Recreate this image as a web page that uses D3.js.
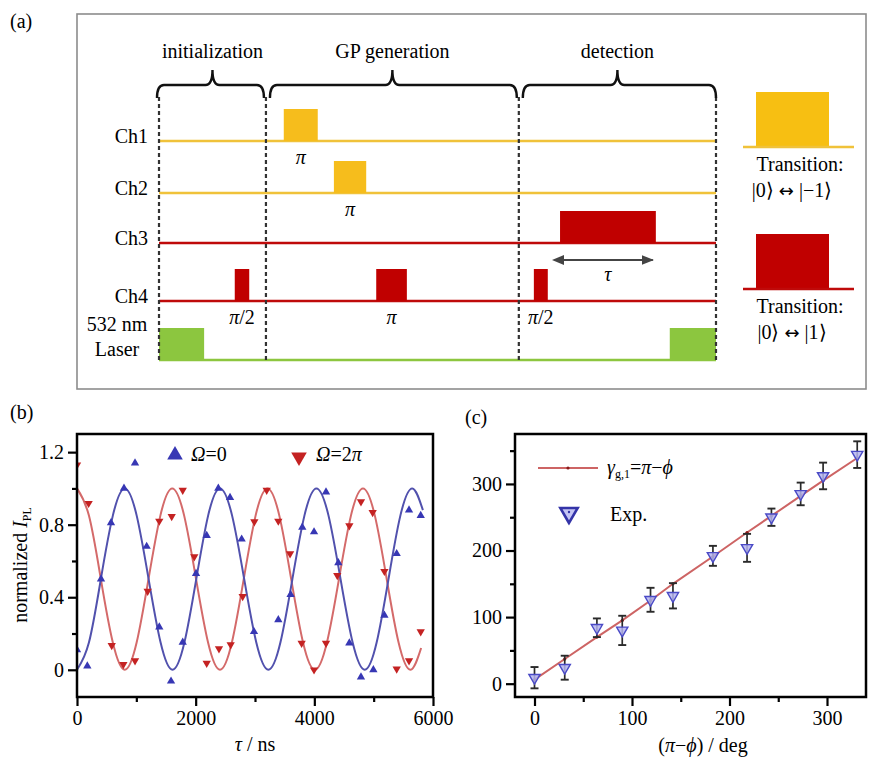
<!DOCTYPE html>
<html><head><meta charset="utf-8">
<script src="https://cdn.jsdelivr.net/npm/d3@7"></script>
<style>
body{margin:0;background:#fff;}
</style></head><body>
<svg id="fig" width="870" height="758" font-family="Liberation Serif"></svg>
<script>
// ---------- Panel (a): pulse sequence ----------
const channels = ["Ch1","Ch2","Ch3","Ch4","Laser"];
const channelLineColors = ["#f0c23a","#f0c23a","#bf0a0a","#bf0a0a","#8dc63f"];
const channelPulseColors = ["#f6bd1c","#f6bd1c","#c00000","#c00000","#8cc63f"];
const sectionNames = ["initialization","GP generation","detection"];
const sectionBounds = [0, 19.2, 64.6, 100];
const pulseChannel = ["Ch1","Ch2","Ch3","Ch4","Ch4","Ch4","Laser","Laser"];
const pulseStart   = [22.4, 31.4, 72.0, 13.6, 39.0, 67.3, 0, 91.7];
const pulseEnd     = [28.5, 37.2, 89.2, 16.2, 44.5, 69.8, 8.1, 100];
const pulseLabel   = ["π","π","","π/2","π","π/2","",""];
const transitionColors = ["#f7bf12","#c00000"];
const transitionLineColors = ["#f0c23a","#bf0a0a"];
const transitionKets = ["|−1⟩","|1⟩"];

// ---------- Panel (b): oscillations ----------
const tauTicks = [0,2000,4000,6000];
const tauMinor = [1000,3000,5000];
const ipTicks = [0,0.4,0.8,1.2];
const ipMinor = [0.2,0.6,1.0];
const blueTau = [0,174,405,573,792,978,1174,1387,1585,1782,2006,2186,2382,2579,2775,2983,3393,3600,3797,3995,4197,4405,4590,4786,4995,5181,5388,5596,5793];
const blueVal = [0.11,0.02,0.50,0.81,1.00,1.14,0.68,0.235,-0.063,0.152,0.53,0.74,1.00,0.95,0.72,0.21,0.275,0.415,0.785,0.76,0.98,0.59,0.147,-0.04,0.0,0.30,0.64,0.88,0.85];
const redTau = [0,196,585,781,978,1191,1387,1596,1782,1977,2186,2393,2590,2792,2989,3197,3393,3591,3786,3995,4197,4387,4590,4786,4983,5181,5388,5596,5793];
const redVal = [1.13,0.918,0.134,0.03,0.05,0.433,0.82,0.846,0.99,0.624,0.036,0.116,0.138,0.404,0.817,0.99,0.82,0.64,0.147,0.0,0.147,0.52,0.795,0.927,0.868,0.543,0.005,0.05,0.21];
const blueFitTau = [0,201,402,604,805,1006,1207,1409,1610,1810,2010,2210,2410,2614,2818,3022,3225,3428,3630,3833,4035,4239,4442,4646,4850,5050,5250,5450,5650,5830];
const blueFitVal = [0,0.15,0.5,0.85,1,0.85,0.5,0.15,0,0.15,0.5,0.85,1,0.85,0.5,0.15,0,0.15,0.5,0.85,1,0.85,0.5,0.15,0,0.15,0.5,0.85,1,0.88];
const redFitTau = [0,201,402,604,805,1005,1205,1405,1605,1806,2007,2209,2410,2610,2810,3010,3210,3410,3610,3810,4010,4212,4415,4617,4820,5020,5220,5420,5620,5800];
const redFitVal = [1,0.85,0.5,0.15,0,0.15,0.5,0.85,1,0.85,0.5,0.15,0,0.15,0.5,0.85,1,0.85,0.5,0.15,0,0.15,0.5,0.85,1,0.85,0.5,0.15,0,0.12];

// ---------- Panel (c): geometric phase ----------
const phaseTicks = [0,100,200,300];
const phaseMinor = [50,150,250];
const gammaTicks = [0,100,200,300];
const gammaMinor = [50,150,250,350];
const phaseX     = [0,31,64,90,119,142,183,218,243,273,296,331];
const gammaExp   = [9,24,84,80,126,132,192,204,250,285,312,344];
const gammaErr   = [16,18,14,22,18,19,15,21,13,17,20,20];
const gammaTheory= [6,37,70,95,125,150,191,227,252,282,305,339];

const SERIF = "Liberation Serif";
const svg = d3.select("#fig");
const FS = 20;
function txt(g,x,y,anchor){
  return g.append("text").attr("x",x).attr("y",y).attr("font-size",FS)
    .attr("font-family",SERIF).attr("fill","#000").attr("text-anchor",anchor||"start");
}
function it(t,s){ t.append("tspan").attr("font-style","italic").text(s); return t; }
function rm(t,s){ t.append("tspan").text(s); return t; }

// ===== Panel (a) =====
const A = svg.append("g");
A.append("rect").attr("x",77).attr("y",14).attr("width",789).attr("height",375)
  .attr("fill","none").attr("stroke","#8c8c8c").attr("stroke-width",1.6);
txt(svg,10,28).text("(a)");

const xA = d3.scaleLinear().domain([0,100]).range([159,716]);
const yCh = d3.scaleOrdinal().domain(channels).range([141,193,243,301,360]);
const lineCol = d3.scaleOrdinal().domain(channels).range(channelLineColors);
const pulseCol = d3.scaleOrdinal().domain(channels).range(channelPulseColors);
const ampH = d3.scaleLinear().domain([0,1]).range([0,32]);

A.selectAll(".base").data(channels).join("line")
  .attr("x1",xA(0)).attr("x2",xA(100))
  .attr("y1",d=>yCh(d)).attr("y2",d=>yCh(d))
  .attr("stroke",d=>lineCol(d)).attr("stroke-width",2.6);

const pulses = pulseChannel.map((c,i)=>({c,s:pulseStart[i],e:pulseEnd[i],l:pulseLabel[i]}));
A.selectAll(".pulse").data(pulses).join("rect")
  .attr("x",d=>xA(d.s)).attr("width",d=>xA(d.e)-xA(d.s))
  .attr("y",d=>yCh(d.c)-ampH(1)).attr("height",ampH(1))
  .attr("fill",d=>pulseCol(d.c));

pulses.filter(d=>d.l).forEach(d=>{
  const t = txt(A,(xA(d.s)+xA(d.e))/2,yCh(d.c)+23,"middle");
  it(t,"π");
  if (d.l.length>1) rm(t,d.l.slice(1));
});

A.selectAll(".div").data(sectionBounds).join("line")
  .attr("x1",d=>xA(d)).attr("x2",d=>xA(d)).attr("y1",97).attr("y2",362)
  .attr("stroke","#333").attr("stroke-width",2.2).attr("stroke-dasharray","4,3");

sectionNames.forEach((name,i)=>{
  const x0 = xA(sectionBounds[i]) + (i?4:-2);
  const x1 = xA(sectionBounds[i+1]) - (i<2?2:0);
  const xm = (xA(sectionBounds[i])+xA(sectionBounds[i+1]))/2;
  const y0 = 85, r = 7;
  const p = `M${x0},${y0+13} Q${x0},${y0} ${x0+r},${y0} L${xm-r},${y0} Q${xm},${y0} ${xm},${y0-15} Q${xm},${y0} ${xm+r},${y0} L${x1-r},${y0} Q${x1},${y0} ${x1},${y0+13}`;
  A.append("path").attr("d",p).attr("fill","none").attr("stroke","#111").attr("stroke-width",2.4);
  txt(A,xm,58,"middle").text(name);
});

["Ch1","Ch2","Ch3","Ch4"].forEach(c=>{ txt(A,148,yCh(c)+2,"end").text(c); });
txt(A,117,yCh("Laser")-29,"middle").text("532 nm");
txt(A,117,yCh("Laser")-4,"middle").text("Laser");

const defs = svg.append("defs");
["s","e"].forEach(k=>{
  defs.append("marker").attr("id","ar"+k).attr("viewBox","0 0 10 10").attr("refX",k==="e"?9:1).attr("refY",5)
    .attr("markerWidth",7).attr("markerHeight",7).attr("orient","auto-start-reverse")
    .append("path").attr("d","M0,1 L10,5 L0,9 Z").attr("fill","#444");
});
{
  const i = pulseChannel.indexOf("Ch3");
  A.append("line").attr("x1",xA(pulseStart[i])+3).attr("x2",xA(pulseEnd[i])-3)
    .attr("y1",yCh("Ch3")+17).attr("y2",yCh("Ch3")+17)
    .attr("stroke","#444").attr("stroke-width",1.8)
    .attr("marker-start","url(#ars)").attr("marker-end","url(#are)");
  it(txt(A,(xA(pulseStart[i])+xA(pulseEnd[i]))/2,yCh("Ch3")+38,"middle"),"τ");
}

const legBottoms = [147,289];
transitionColors.forEach((col,i)=>{
  const yb = legBottoms[i];
  A.append("rect").attr("x",756).attr("y",yb-55).attr("width",73).attr("height",55).attr("fill",col);
  A.append("line").attr("x1",743).attr("x2",854).attr("y1",yb).attr("y2",yb)
    .attr("stroke",transitionLineColors[i]).attr("stroke-width",2.6);
  txt(A,800,yb+24,"middle").text("Transition:");
  const t = txt(A,792,yb+50,"middle");
  rm(t,"|0⟩ ");
  t.append("tspan").attr("font-family","DejaVu Sans").attr("font-size",18).text("↔");
  rm(t," "+transitionKets[i]);
});

// ===== axis styling =====
function styleAxis(g){
  g.attr("font-family",SERIF).attr("font-size",FS);
  g.select(".domain").remove();
  g.selectAll(".tick line").attr("stroke","#000").attr("stroke-width",2.2);
  g.selectAll(".tick text").attr("font-size",FS).attr("font-family",SERIF).attr("fill","#000");
}
const tri = d3.symbol(d3.symbolTriangle);

// ===== Panel (b) =====
const B = svg.append("g");
txt(svg,10,419).text("(b)");
const xB = d3.scaleLinear().domain([0,6000]).range([77,433]);
const yB = d3.scaleLinear().domain([-0.15,1.3]).range([697,434]);

B.append("clipPath").attr("id","clipB").append("rect").attr("x",77).attr("y",434).attr("width",356).attr("height",263);
const lineB = d3.line().curve(d3.curveNatural);
const pg = B.append("g").attr("clip-path","url(#clipB)");
pg.append("path").attr("d",lineB(redFitTau.map((t,i)=>[xB(t),yB(redFitVal[i])])))
  .attr("fill","none").attr("stroke","#d46a6a").attr("stroke-width",2);
pg.append("path").attr("d",lineB(blueFitTau.map((t,i)=>[xB(t),yB(blueFitVal[i])])))
  .attr("fill","none").attr("stroke","#5151ad").attr("stroke-width",2);

pg.selectAll(".bt").data(blueTau).join("path")
  .attr("d",tri.size(30)()).attr("fill","#3737b4")
  .attr("transform",(d,i)=>`translate(${xB(d)},${yB(blueVal[i])})`);
pg.selectAll(".rt").data(redTau).join("path")
  .attr("d",tri.size(30)()).attr("fill","#c42222")
  .attr("transform",(d,i)=>`translate(${xB(d)},${yB(redVal[i])}) rotate(180)`);

const fmtB = d=> d===0?"0":d3.format(".1f")(d);
B.append("g").attr("transform","translate(0,697)")
  .call(d3.axisBottom(xB).tickValues(tauTicks).tickSize(9).tickPadding(5).tickFormat(d3.format("d"))).call(styleAxis);
B.append("g").attr("transform","translate(0,697)")
  .call(d3.axisBottom(xB).tickValues(tauMinor).tickSize(5).tickFormat("")).call(styleAxis);
B.append("g").attr("transform","translate(77,0)")
  .call(d3.axisLeft(yB).tickValues(ipTicks).tickSize(9).tickPadding(4).tickFormat(fmtB)).call(styleAxis);
B.append("g").attr("transform","translate(77,0)")
  .call(d3.axisLeft(yB).tickValues(ipMinor).tickSize(5).tickFormat("")).call(styleAxis);
B.append("rect").attr("x",77).attr("y",434).attr("width",356).attr("height",263)
  .attr("fill","none").attr("stroke","#000").attr("stroke-width",2.5);

B.append("path").attr("d",tri.size(105)()).attr("fill","#3737b4").attr("transform","translate(175,455)");
rm(it(txt(B,191,461),"Ω"),"=0");
B.append("path").attr("d",tri.size(105)()).attr("fill","#c42222").attr("transform","translate(299,457) rotate(180)");
it(rm(it(txt(B,316,461),"Ω"),"=2"),"π");

{ const t=B.append("text").attr("transform","translate(27,565) rotate(-90)").attr("text-anchor","middle")
    .attr("font-size",FS).attr("font-family",SERIF);
  rm(t,"normalized "); it(t,"I");
  t.append("tspan").attr("font-size",12).attr("dy",4).text("PL"); }
rm(it(txt(B,255,751,"middle"),"τ")," / ns");

// ===== Panel (c) =====
const C = svg.append("g");
txt(svg,465,424).text("(c)");
const xC = d3.scaleLinear().domain([-20,340]).range([515,866]);
const yC = d3.scaleLinear().domain([-20,375]).range([697,434]);

C.append("g").attr("transform","translate(0,697)")
  .call(d3.axisBottom(xC).tickValues(phaseTicks).tickSize(9).tickPadding(5).tickFormat(d3.format("d"))).call(styleAxis);
C.append("g").attr("transform","translate(0,697)")
  .call(d3.axisBottom(xC).tickValues(phaseMinor).tickSize(5).tickFormat("")).call(styleAxis);
C.append("g").attr("transform","translate(515,0)")
  .call(d3.axisLeft(yC).tickValues(gammaTicks).tickSize(9).tickPadding(4).tickFormat(d3.format("d"))).call(styleAxis);
C.append("g").attr("transform","translate(515,0)")
  .call(d3.axisLeft(yC).tickValues(gammaMinor).tickSize(5).tickFormat("")).call(styleAxis);

C.append("path").attr("d",d3.line()(phaseX.map((x,i)=>[xC(x),yC(gammaTheory[i])])))
  .attr("fill","none").attr("stroke","#cd6464").attr("stroke-width",2);
C.selectAll(".td").data(phaseX).join("circle")
  .attr("cx",d=>xC(d)).attr("cy",(d,i)=>yC(gammaTheory[i])).attr("r",1.6).attr("fill","#8a1a1a");

const eb = C.selectAll(".eb").data(phaseX).join("g");
eb.append("line").attr("x1",d=>xC(d)).attr("x2",d=>xC(d))
  .attr("y1",(d,i)=>yC(gammaExp[i]-gammaErr[i])).attr("y2",(d,i)=>yC(gammaExp[i]+gammaErr[i]))
  .attr("stroke","#2a2a2a").attr("stroke-width",1.7);
[-1,1].forEach(s=>{
  eb.append("line").attr("x1",d=>xC(d)-4).attr("x2",d=>xC(d)+4)
    .attr("y1",(d,i)=>yC(gammaExp[i]+s*gammaErr[i])).attr("y2",(d,i)=>yC(gammaExp[i]+s*gammaErr[i]))
    .attr("stroke","#2a2a2a").attr("stroke-width",1.9);
});
C.selectAll(".ex").data(phaseX).join("path")
  .attr("d",tri.size(55)()).attr("fill","#b4b4ef").attr("fill-opacity",0.85)
  .attr("stroke","#4a4ac6").attr("stroke-width",1.4)
  .attr("transform",(d,i)=>`translate(${xC(d)},${yC(gammaExp[i])}) rotate(180)`);

C.append("rect").attr("x",515).attr("y",434).attr("width",351).attr("height",263)
  .attr("fill","none").attr("stroke","#000").attr("stroke-width",2.5);

C.append("line").attr("x1",538).attr("x2",598).attr("y1",468).attr("y2",468).attr("stroke","#cd6464").attr("stroke-width",2);
C.append("circle").attr("cx",568).attr("cy",468).attr("r",1.6).attr("fill","#8a1a1a");
{ const t=txt(C,607,474);
  it(t,"γ");
  t.append("tspan").attr("font-size",12).attr("dy",4).text("g,1");
  t.append("tspan").attr("dy",-4).text("=");
  it(t,"π"); rm(t,"−"); it(t,"ϕ"); }
C.append("path").attr("d",tri.size(130)()).attr("fill","#c4c4f4")
  .attr("stroke","#3434a8").attr("stroke-width",2.6).attr("transform","translate(569,513) rotate(180)");
C.append("circle").attr("cx",569).attr("cy",512).attr("r",1.2).attr("fill","#3434a8");
txt(C,610,521).text("Exp.");

{ const t=txt(C,703,752,"middle");
  rm(t,"("); it(t,"π"); rm(t,"−"); it(t,"ϕ"); rm(t,") / deg"); }
</script>
</body></html>
